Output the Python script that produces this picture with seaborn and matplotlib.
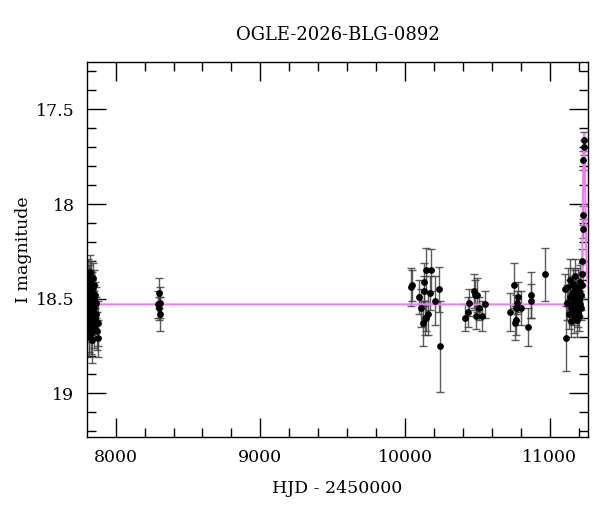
import numpy as np
import matplotlib
matplotlib.use("Agg")
import matplotlib.pyplot as plt
from matplotlib.ticker import MultipleLocator, FuncFormatter
import seaborn as sns

title = "OGLE-2026-BLG-0892"

# season 1 (2017)
hjd_1 = [7808, 7809, 7811, 7812, 7813, 7815, 7816, 7817, 7818, 7820, 7821, 7822, 7824, 7825,
         7826, 7828, 7829, 7830, 7832, 7833, 7835, 7836, 7838, 7840, 7841, 7843, 7845, 7847,
         7849, 7851, 7853, 7856, 7859, 7862, 7866, 7871, 7876, 7879]
mag_1 = [18.45, 18.60, 18.38, 18.52, 18.66, 18.47, 18.55, 18.70, 18.42, 18.58, 18.50, 18.36,
         18.63, 18.48, 18.56, 18.44, 18.68, 18.52, 18.40, 18.60, 18.47, 18.72, 18.53, 18.45,
         18.62, 18.39, 18.57, 18.50, 18.65, 18.43, 18.55, 18.48, 18.60, 18.52, 18.58, 18.67,
         18.63, 18.71]
err_1 = [0.08, 0.10, 0.09, 0.07, 0.12, 0.08, 0.09, 0.11, 0.10, 0.08, 0.07, 0.09, 0.10, 0.08,
         0.09, 0.07, 0.11, 0.08, 0.10, 0.09, 0.08, 0.12, 0.07, 0.09, 0.10, 0.08, 0.09, 0.07,
         0.11, 0.08, 0.09, 0.07, 0.10, 0.08, 0.09, 0.10, 0.12, 0.10]

# season 2
hjd_2 = [8296, 8299, 8302, 8305, 8308]
mag_2 = [18.53, 18.47, 18.55, 18.58, 18.52]
err_2 = [0.07, 0.08, 0.06, 0.09, 0.08]

# seasons 2023-2025
hjd_3 = [10043, 10050, 10096, 10112, 10123, 10128, 10133, 10137, 10147, 10147, 10160, 10174,
         10178, 10204, 10232, 10243,
         10412, 10437, 10444, 10474, 10483, 10492, 10497, 10510, 10534, 10550,
         10723, 10752, 10762, 10764, 10769, 10776, 10778, 10803, 10847, 10872, 10872, 10966]
mag_3 = [18.44, 18.43, 18.49, 18.55, 18.63, 18.46, 18.41, 18.60, 18.35, 18.60, 18.58, 18.47,
         18.35, 18.51, 18.45, 18.75,
         18.60, 18.57, 18.52, 18.46, 18.48, 18.59, 18.48, 18.55, 18.59, 18.53,
         18.57, 18.43, 18.63, 18.61, 18.55, 18.52, 18.49, 18.55, 18.65, 18.48, 18.51, 18.37]
err_3 = [0.10, 0.08, 0.09, 0.10, 0.12, 0.08, 0.10, 0.09, 0.12, 0.07, 0.11, 0.09,
         0.11, 0.13, 0.12, 0.24,
         0.07, 0.08, 0.07, 0.09, 0.08, 0.07, 0.09, 0.06, 0.08, 0.07,
         0.10, 0.12, 0.09, 0.08, 0.07, 0.06, 0.08, 0.09, 0.10, 0.12, 0.09, 0.14]

# 2026 season incl. event
hjd_4 = [11103, 11114, 11122, 11128, 11133, 11138, 11142, 11146, 11150, 11153, 11156, 11160,
         11163, 11166, 11170, 11173, 11176, 11180, 11183, 11186, 11190, 11193, 11196, 11200,
         11203, 11206, 11209, 11212, 11215, 11218, 11221, 11224, 11226,
         11228, 11229, 11232, 11236, 11237]
mag_4 = [18.45, 18.71, 18.52, 18.44, 18.58, 18.49, 18.40, 18.55, 18.62, 18.47, 18.53, 18.42,
         18.57, 18.50, 18.60, 18.45, 18.38, 18.54, 18.48, 18.61, 18.52, 18.44, 18.57, 18.50,
         18.46, 18.59, 18.41, 18.53, 18.48, 18.55, 18.43, 18.37, 18.30,
         18.13, 18.06, 17.77, 17.70, 17.66]
err_4 = [0.08, 0.17, 0.09, 0.10, 0.08, 0.09, 0.11, 0.07, 0.08, 0.09, 0.10, 0.08,
         0.07, 0.09, 0.08, 0.10, 0.09, 0.07, 0.08, 0.09, 0.07, 0.10, 0.08, 0.09,
         0.07, 0.08, 0.09, 0.07, 0.08, 0.06, 0.07, 0.06, 0.06,
         0.05, 0.05, 0.05, 0.04, 0.04]

# model curve
model_hjd = [7780, 11200, 11215, 11222, 11226, 11230, 11234, 11238, 11242, 11246, 11252,
             11258, 11270]
model_mag = [18.53, 18.53, 18.51, 18.45, 18.25, 17.95, 17.72, 17.63, 17.72, 17.95, 18.22,
             18.36, 18.47]

hjd = np.array(hjd_1 + hjd_2 + hjd_3 + hjd_4)
mag = np.array(mag_1 + mag_2 + mag_3 + mag_4)
err = np.array(err_1 + err_2 + err_3 + err_4)

sns.set_style("ticks")
plt.rcParams['font.family'] = ['DejaVu Serif']
plt.rcParams['mathtext.fontset'] = 'dejavuserif'

fig = plt.figure(figsize=(6.0, 5.12), dpi=100)
ax = fig.add_axes([0.145, 0.1465, 0.835, 0.7325])

sns.lineplot(x=model_hjd, y=model_mag, color='#f27af2', lw=1.5, ax=ax, zorder=3)
ax.errorbar(hjd, mag, yerr=err, fmt='none', ecolor='0.25', elinewidth=1.0,
            capsize=3, capthick=1.0, alpha=0.85, zorder=2)
sns.scatterplot(x=hjd, y=mag, color='black', s=24, edgecolor='black', linewidth=0,
                ax=ax, zorder=4)

ax.set_xlim(7802, 11265)
ax.set_ylim(19.23, 17.25)

ax.xaxis.set_major_locator(MultipleLocator(1000))
ax.xaxis.set_minor_locator(MultipleLocator(200))
ax.yaxis.set_major_locator(MultipleLocator(0.5))
ax.yaxis.set_minor_locator(MultipleLocator(0.1))
ax.yaxis.set_major_formatter(FuncFormatter(lambda v, p: f"{v:g}"))

ax.tick_params(which='both', direction='in', top=True, right=True, width=1.0, color='black')
ax.tick_params(which='major', length=13.5, labelsize=12.5, pad=9, labelcolor='black')
ax.tick_params(which='minor', length=6.8)
for s in ax.spines.values():
    s.set_linewidth(1.0)
    s.set_color('black')

ax.set_xlabel("HJD - 2450000", fontsize=12.5, labelpad=10, color='black')
ax.set_ylabel("I magnitude", fontsize=12.5, labelpad=3, color='black')
ax.set_title(title, fontsize=13, pad=16, color='black')

fig.savefig("out.png", dpi=100)
